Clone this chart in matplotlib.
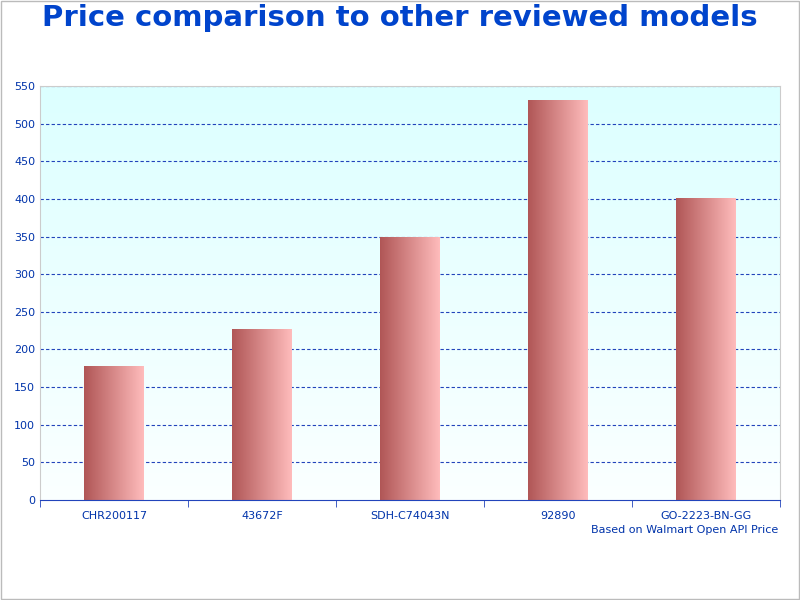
import numpy as np
import matplotlib.pyplot as plt
from matplotlib.colors import LinearSegmentedColormap

models = ['CHR200117', '43672F', 'SDH-C74043N', '92890', 'GO-2223-BN-GG']
prices = [178, 227, 349, 531, 401]

fig = plt.figure(figsize=(8, 6), dpi=100)
ax = fig.add_axes([0.05, 0.1667, 0.925, 0.69])
ax.set_xlim(-0.5, 4.5)
ax.set_ylim(0, 550)

# background gradient (light cyan to white)
bg = LinearSegmentedColormap.from_list('bg', ['#fbffff', '#dcffff'])
ax.imshow(np.linspace(0, 1, 256).reshape(-1, 1), cmap=bg, aspect='auto',
          extent=[-0.5, 4.5, 0, 550], origin='lower', zorder=0)

for y in range(50, 551, 50):
    ax.axhline(y, color='#2244bb', lw=0.8, ls='--', dashes=(3, 2), zorder=1)

bar_cm = LinearSegmentedColormap.from_list('bar', ['#b05656', '#ffbcbc'])
grad = np.linspace(0, 1, 256).reshape(1, -1)
w = 0.4
for i, p in enumerate(prices):
    ax.imshow(grad, cmap=bar_cm, aspect='auto',
              extent=[i - w / 2, i + w / 2, 0, p], zorder=2)

ax.set_xlim(-0.5, 4.5)
ax.set_ylim(0, 550)
ax.set_xticks(range(len(models)))
ax.set_xticklabels(models, color='#0033aa', fontsize=8)
ax.set_xticks(np.arange(-0.5, 4.6, 1), minor=True)
ax.tick_params(axis='x', which='major', length=0, pad=8)
ax.tick_params(axis='x', which='minor', length=5, color='#2244bb')
ax.set_yticks(range(0, 551, 50))
ax.tick_params(axis='y', length=0, labelcolor='#0033aa', labelsize=8)
for s in ax.spines.values():
    s.set_color('#cccccc')
ax.spines['bottom'].set_color('#2244bb')

fig.text(0.5, 0.97, 'Price comparison to other reviewed models', ha='center',
         va='center', fontsize=21, fontweight='bold', color='#0044cc')
fig.text(0.973, 0.117, 'Based on Walmart Open API Price', ha='right',
         va='center', fontsize=8, color='#0033aa')
fig.patches.append(plt.Rectangle((0.001, 0.001), 0.998, 0.998, transform=fig.transFigure,
                                 fill=False, ec='#bbbbbb', lw=1))
fig.savefig('out.png')
